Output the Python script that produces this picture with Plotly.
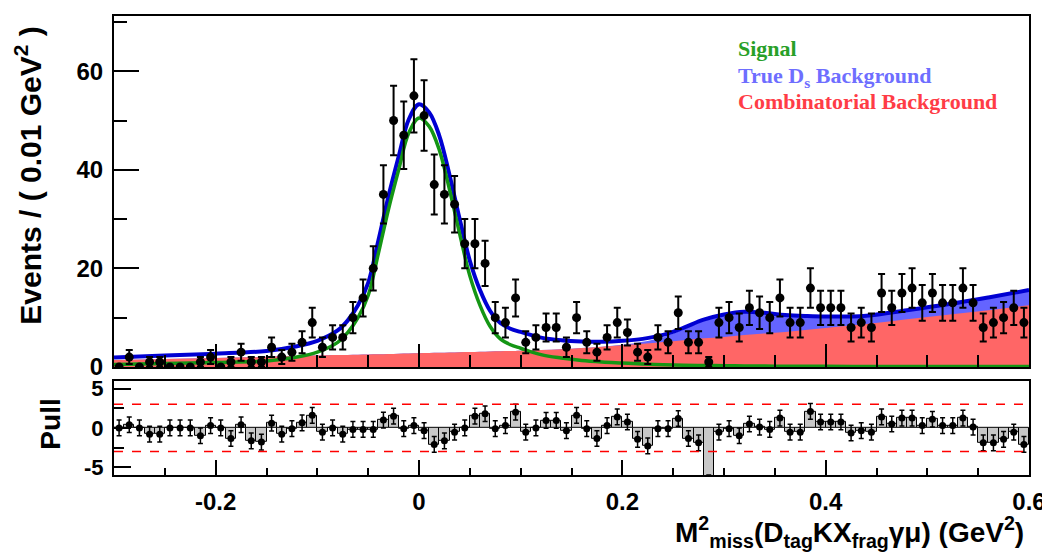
import math
import plotly.graph_objects as go

# ---------------- data ----------------
# histogram: 90 bins of 0.01 GeV^2 from -0.3 to 0.6
bin_lo = -0.30
bin_w = 0.01
counts = [0, 2, 0, 1, 1, 0, 0, 0, 1, 2,
          0, 1, 3, 1, 1, 4, 2, 3, 5, 9,
          4, 6, 6, 10, 14, 20, 35, 50, 47, 55,
          51, 37, 35, 33, 25, 25, 21, 10, 9, 14,
          5, 6, 8, 8, 4, 10, 5, 3, 6, 9,
          7, 3, 2, 6, 5, 11, 5, 5, 1, 9,
          10, 8, 12, 11, 10, 14, 9, 9, 16, 12,
          12, 12, 8, 9, 8, 15, 12, 15, 16, 13,
          15, 13, 13, 16, 13, 8, 9, 10, 12, 9]

pulls = [0.0, 0.4, 0.0, -0.8, -0.8, 0.0, 0.0, 0.0, -1.0, 0.3,
         0.0, -1.35, 0.4, -1.65, -1.8, 0.6, -0.8, -0.1, 0.65, 1.6,
         -0.55, 0.0, -0.8, -0.2, -0.2, -0.2, 1.0, 1.5, -0.1, 0.3,
         -0.35, -2.1, -1.65, -0.55, 0.0, 1.5, 1.8, -0.1, 0.3, 2.0,
         -0.55, 0.0, 0.95, 0.95, -0.35, 1.6, -0.1, -1.35, 0.3, 1.4,
         0.75, -1.45, -2.3, -0.1, -0.1, 1.2, -1.35, -1.9, -7.0, -0.55,
         -0.1, -1.0, 0.5, 0.1, -0.2, 1.25, -0.55, -0.55, 2.1, 0.75,
         0.75, 0.75, -0.65, -0.35, -0.55, 1.4, 0.5, 1.25, 1.25, 0.3,
         1.1, 0.3, 0.3, 1.25, 0.1, -1.9, -1.9, -1.45, -0.55, -2.1]

# fit components sampled along x
curve_x = [-0.30, -0.25, -0.20, -0.15, -0.12, -0.10, -0.08, -0.07, -0.06, -0.05,
           -0.04, -0.03, -0.02, -0.01, 0.00, 0.01, 0.02, 0.03, 0.04, 0.05,
           0.06, 0.07, 0.08, 0.09, 0.10, 0.12, 0.14, 0.16, 0.18, 0.20,
           0.22, 0.24, 0.26, 0.28, 0.30, 0.32, 0.34, 0.36, 0.38, 0.40,
           0.44, 0.48, 0.52, 0.56, 0.60]
signal = [0.5, 0.7, 0.9, 1.2, 2.0, 3.0, 5.0, 7.0, 10.0, 14.5,
          23.0, 32.0, 40.0, 47.5, 50.5, 48.8, 44.0, 36.0, 27.0, 18.5,
          12.5, 8.2, 5.7, 4.5, 3.8, 2.5, 1.8, 1.3, 1.0, 0.8,
          0.6, 0.45, 0.35, 0.3, 0.25, 0.2, 0.18, 0.15, 0.13, 0.12,
          0.1, 0.1, 0.1, 0.1, 0.1]
combinatorial = [1.4, 1.6, 1.8, 2.05, 2.2, 2.3, 2.4, 2.45, 2.5, 2.55,
                 2.6, 2.65, 2.7, 2.75, 2.8, 2.85, 2.9, 2.95, 3.0, 3.05,
                 3.1, 3.15, 3.2, 3.25, 3.3, 3.45, 3.6, 3.85, 4.1, 4.4,
                 4.7, 5.05, 5.4, 5.8, 6.1, 6.5, 6.8, 7.1, 7.5, 7.9,
                 8.7, 9.7, 10.6, 11.5, 12.5]
true_ds = [0, 0, 0, 0, 0, 0, 0, 0, 0, 0,
           0, 0, 0, 0, 0, 0, 0, 0, 0, 0,
           0, 0, 0, 0, 0, 0, 0, 0, 0, 0.1,
           0.4, 1.0, 2.2, 3.5, 4.3, 4.5, 4.0, 3.3, 2.7, 2.2,
           1.6, 1.7, 2.0, 2.5, 3.0]

legend_labels = ["Signal", "True D<sub>s</sub> Background", "Combinatorial Background"]
legend_colors = ["rgb(40,160,40)", "rgb(110,110,255)", "rgb(255,60,70)"]

# ---------------- derived ----------------
centers = [round(bin_lo + bin_w * (i + 0.5), 4) for i in range(len(counts))]
errors = [math.sqrt(c) for c in counts]
stack_ds = [c + t for c, t in zip(combinatorial, true_ds)]
total = [s + d for s, d in zip(stack_ds, signal)]

FONT = "Liberation Sans"
fig = go.Figure()

# main panel
fig.add_trace(go.Scatter(x=curve_x, y=stack_ds, mode="lines", line=dict(width=0, shape="spline"),
                         fill="tozeroy", fillcolor="rgb(100,100,255)", hoverinfo="skip",
                         xaxis="x", yaxis="y"))
fig.add_trace(go.Scatter(x=curve_x, y=combinatorial, mode="lines", line=dict(width=0, shape="spline"),
                         fill="tozeroy", fillcolor="rgb(255,102,102)", hoverinfo="skip",
                         xaxis="x", yaxis="y"))
fig.add_trace(go.Scatter(x=curve_x, y=total, mode="lines",
                         line=dict(color="rgb(0,0,210)", width=4, shape="spline"),
                         xaxis="x", yaxis="y"))
fig.add_trace(go.Scatter(x=curve_x, y=signal, mode="lines",
                         line=dict(color="rgb(20,150,20)", width=3.5, shape="spline"),
                         xaxis="x", yaxis="y"))
fig.add_trace(go.Scatter(x=centers, y=counts, mode="markers",
                         marker=dict(color="black", size=9, symbol="circle"),
                         error_y=dict(type="data", array=errors, color="black", thickness=2, width=3.5),
                         xaxis="x", yaxis="y"))

# pull panel
fig.add_trace(go.Bar(x=centers, y=pulls, width=bin_w,
                     marker=dict(color="rgb(200,200,200)", line=dict(color="black", width=1)),
                     xaxis="x2", yaxis="y2"))
fig.add_trace(go.Scatter(x=centers, y=pulls, mode="markers",
                         marker=dict(color="black", size=7),
                         error_y=dict(type="constant", value=1, color="black", thickness=1.5, width=2.5),
                         xaxis="x2", yaxis="y2"))

for lvl in (3, -3):
    fig.add_shape(type="line", xref="x2", yref="y2", x0=-0.3, x1=0.6, y0=lvl, y1=lvl,
                  line=dict(color="red", width=1.5, dash="dash"))

tickfont = dict(family=FONT, size=24, color="black", weight="bold")
common_x = dict(range=[-0.3, 0.6], showgrid=False, zeroline=False, showline=True, mirror=True,
                linecolor="black", linewidth=2, ticks="inside", tickcolor="black", tickwidth=1.5,
                tickmode="array", tickvals=[-0.2, 0, 0.2, 0.4, 0.6])

# page body has an 8px margin: the figure is offset by 8px and sized to end at the window edge
fig.update_layout(
    width=1042, height=544,
    margin=dict(l=106, r=19, t=4, b=77),
    paper_bgcolor="white", plot_bgcolor="white",
    showlegend=False, bargap=0,
    xaxis=dict(**common_x, anchor="y", domain=[0, 1], showticklabels=False, ticklen=23,
               minor=dict(ticks="inside", ticklen=12, tickmode="linear", tick0=0, dtick=0.05,
                          tickcolor="black", tickwidth=1.5)),
    yaxis=dict(domain=[0.2354, 1], range=[0, 71.2], showgrid=False, zeroline=False, showline=True,
               mirror=True, linecolor="black", linewidth=2, ticks="inside", ticklen=25,
               tickcolor="black", tickwidth=1.5, tickmode="array", tickvals=[0, 20, 40, 60],
               ticktext=["0", "20", "40", "60"], tickfont=tickfont, ticklabelstandoff=4,
               minor=dict(ticks="inside", ticklen=13, tickmode="linear", tick0=0, dtick=10,
                          tickcolor="black", tickwidth=1.5)),
    xaxis2=dict(**common_x, anchor="y2", domain=[0, 1], ticklen=15,
                ticktext=["-0.2", "0", "0.2", "0.4", "0.6"], tickfont=tickfont, ticklabelstandoff=4,
                minor=dict(ticks="inside", ticklen=7, tickmode="linear", tick0=0, dtick=0.05,
                           tickcolor="black", tickwidth=1.5)),
    yaxis2=dict(domain=[0, 0.2052], range=[-6, 6], showgrid=False, zeroline=False, showline=True,
                mirror=True, linecolor="black", linewidth=2, ticks="inside", ticklen=17,
                tickcolor="black", tickwidth=1.5, tickmode="array", tickvals=[-5, 0, 5],
                ticktext=["-5", "0", "5"], tickfont=dict(family=FONT, size=22, color="black", weight="bold"),
                ticklabelstandoff=4,
                minor=dict(ticks="inside", ticklen=10, tickmode="linear", tick0=0, dtick=2.5,
                           tickcolor="black", tickwidth=1.5)),
)

title_font = dict(family=FONT, size=28, color="black", weight="bold")
fig.add_annotation(text="Events / ( 0.01 GeV<sup>2</sup> )", textangle=-90, xref="paper", yref="paper",
                   x=-0.094, y=0.652, xanchor="center", yanchor="middle", showarrow=False,
                   font=dict(family=FONT, size=30, color="black", weight="bold"))
fig.add_annotation(text="Pull", textangle=-90, xref="paper", yref="paper",
                   x=-0.0698, y=0.110, xanchor="center", yanchor="middle", showarrow=False, font=title_font)
fig.add_annotation(text="M<sup>2</sup><sub>miss</sub>(D<sub>tag</sub>KX<sub>frag</sub>γμ) (GeV<sup>2</sup>)",
                   xref="paper", yref="paper", x=0.997, y=-0.125, xanchor="right", yanchor="middle",
                   showarrow=False, font=title_font)

leg_y = [0.9287, 0.868, 0.814]
for lab, col, yy in zip(legend_labels, legend_colors, leg_y):
    fig.add_annotation(text=lab, xref="paper", yref="paper", x=0.680, y=yy, xanchor="left",
                       yanchor="middle", showarrow=False,
                       font=dict(family="Liberation Serif", size=22, color=col, weight="bold"))

# small light-blue mark at the left edge of the picture
fig.add_shape(type="rect", xref="paper", yref="paper", x0=-0.1243, x1=-0.1210, y0=0.6156, y1=0.680,
              line=dict(width=0), fillcolor="rgb(160,220,255)")

fig.write_html("out.html")
